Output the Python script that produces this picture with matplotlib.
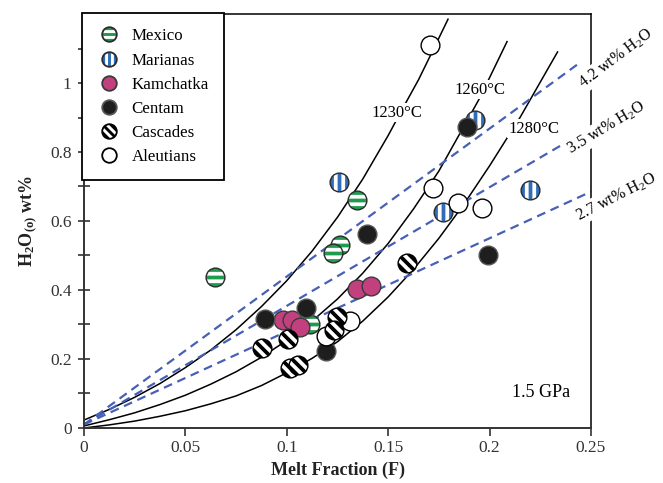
import numpy as np
import matplotlib
matplotlib.use("Agg")
import matplotlib.pyplot as plt
from matplotlib.path import Path
from matplotlib.lines import Line2D
from matplotlib.legend_handler import HandlerTuple

plt.rcParams['font.family'] = ['Liberation Serif', 'DejaVu Serif']
plt.rcParams['mathtext.default'] = 'regular'

# Sample data: melt fraction F and source H2O (wt%)
mexico_f = [0.0646, 0.1345, 0.1262, 0.1229, 0.1114]
mexico_h = [0.439, 0.661, 0.530, 0.508, 0.301]
marianas_f = [0.1259, 0.1772, 0.2199, 0.1928]
marianas_h = [0.712, 0.627, 0.690, 0.893]
kamchatka_f = [0.1345, 0.1415, 0.0983, 0.1024, 0.1065]
kamchatka_h = [0.402, 0.412, 0.313, 0.313, 0.294]
centam_f = [0.0893, 0.1095, 0.1193, 0.1394, 0.1890, 0.1994]
centam_h = [0.315, 0.347, 0.224, 0.562, 0.872, 0.501]
cascades_f = [0.0876, 0.1008, 0.1016, 0.1057, 0.1246, 0.1235, 0.1591]
cascades_h = [0.231, 0.257, 0.173, 0.183, 0.323, 0.285, 0.477]
aleutians_f = [0.1706, 0.1722, 0.1846, 0.1961, 0.1312, 0.1195]
aleutians_h = [1.110, 0.695, 0.651, 0.637, 0.311, 0.268]

# isotherms
iso_1230_f = [0, 0.0125, 0.025, 0.0375, 0.05, 0.0625, 0.075, 0.0875, 0.1, 0.1125,
              0.125, 0.1375, 0.15, 0.1575, 0.165, 0.1725, 0.1795]
iso_1230_h = [0.023, 0.054, 0.089, 0.129, 0.175, 0.226, 0.285, 0.352, 0.427, 0.513,
              0.611, 0.722, 0.848, 0.93, 1.01, 1.10, 1.185]
iso_1260_f = [0, 0.0125, 0.025, 0.0375, 0.05, 0.0625, 0.075, 0.0875, 0.1, 0.1125,
              0.125, 0.1375, 0.15, 0.1625, 0.175, 0.185, 0.195, 0.2086]
iso_1260_h = [0.006, 0.024, 0.044, 0.068, 0.095, 0.127, 0.163, 0.205, 0.254, 0.310,
              0.374, 0.449, 0.535, 0.635, 0.745, 0.85, 0.955, 1.12]
iso_1280_f = [0, 0.0125, 0.025, 0.0375, 0.05, 0.0625, 0.075, 0.0875, 0.1, 0.1125,
              0.125, 0.1375, 0.15, 0.1625, 0.175, 0.1875, 0.2, 0.215, 0.2335]
iso_1280_h = [0, 0.009, 0.02, 0.034, 0.05, 0.07, 0.093, 0.123, 0.16, 0.202,
              0.25, 0.31, 0.38, 0.46, 0.55, 0.65, 0.76, 0.90, 1.09]

# constant melt-water lines (start and end points)
w42_f = [0, 0.2436]
w42_h = [0.01, 1.055]
w35_f = [0, 0.25]
w35_h = [0.01, 0.87]
w27_f = [0, 0.25]
w27_h = [0.01, 0.685]


def striped(angle):
    # bands 2 and 4 of a disc cut into 5 parallel bands
    edges = np.linspace(-1, 1, 6)
    parts = [Path([[1, 0]], [Path.MOVETO])]  # keeps marker scale = unit circle
    c, s = np.cos(np.radians(angle)), np.sin(np.radians(angle))
    rot = np.array([[c, -s], [s, c]])
    for k in (1, 3):
        t = np.linspace(np.arcsin(edges[k]), np.arcsin(edges[k + 1]), 24)
        pts = np.vstack([np.c_[np.cos(t), np.sin(t)],
                         np.c_[-np.cos(t[::-1]), np.sin(t[::-1])]])
        pts = pts @ rot.T
        pts = np.vstack([pts, pts[:1]])
        parts.append(Path(pts, closed=True))
    return Path.make_compound_path(*parts)


styles = [
    ("Mexico", mexico_f, mexico_h, "#1f9a4e", striped(0), "white", "#2b2b2b"),
    ("Marianas", marianas_f, marianas_h, "#2f6db8", striped(90), "white", "#2b2b2b"),
    ("Kamchatka", kamchatka_f, kamchatka_h, "#c3407f", None, None, "#3a3a3a"),
    ("Centam", centam_f, centam_h, "#1e1e1e", None, None, "#555555"),
    ("Cascades", cascades_f, cascades_h, "black", striped(-45), "white", "black"),
    ("Aleutians", aleutians_f, aleutians_h, "white", None, None, "black"),
]
draw_order = [0, 1, 2, 3, 5, 4]

fig = plt.figure(figsize=(6.63, 4.83), dpi=100)
ax = fig.add_axes([0.1267, 0.1139, 0.7647, 0.8571])

# isotherms
for f, h in [(iso_1230_f, iso_1230_h), (iso_1260_f, iso_1260_h), (iso_1280_f, iso_1280_h)]:
    ax.plot(f, h, color="black", lw=1.1, zorder=2)

for f, h in [(w42_f, w42_h), (w35_f, w35_h), (w27_f, w27_h)]:
    ax.plot(f, h, color="#4760b5", lw=1.6, dashes=(4, 2.6), zorder=2)

ms = 13.5
for i in draw_order:
    name, fx, hx, face, stripe, scol, edge = styles[i]
    for f, h in zip(fx, hx):
        ax.plot(f, h, "o", ms=ms, mfc=face, mec="none", zorder=4)
        if stripe is not None:
            ax.plot(f, h, ls="none", marker=stripe, ms=ms, mfc=scol, mec="none", zorder=4)
        ax.plot(f, h, "o", ms=ms, mfc="none", mec=edge, mew=1.0, zorder=4)

# legend proxies (a bit smaller)
handles = []
for name, fx, hx, face, stripe, scol, edge in styles:
    parts = [Line2D([], [], ls="none", marker="o", ms=10.5, mfc=face, mec="none")]
    if stripe is not None:
        parts.append(Line2D([], [], ls="none", marker=stripe, ms=10.5, mfc=scol, mec="none"))
    parts.append(Line2D([], [], ls="none", marker="o", ms=10.5, mfc="none", mec=edge, mew=1.3))
    handles.append(tuple(parts))

leg = ax.legend(handles, [s[0] for s in styles],
                handler_map={tuple: HandlerTuple(ndivide=1, pad=0)},
                loc="upper left", bbox_to_anchor=(-0.003, 1.002), borderaxespad=0,
                fancybox=False, framealpha=1, edgecolor="black", fontsize=12.2,
                handlelength=1.3, handletextpad=0.7, labelspacing=0.48, borderpad=0.9)
leg.get_frame().set_linewidth(1.3)
leg.set_zorder(6)

box = dict(facecolor="white", edgecolor="none", pad=1.0)
ax.text(0.1541, 0.914, "1230°C", fontsize=12, ha="center", va="center", bbox=box, zorder=3)
ax.text(0.1953, 0.981, "1260°C", fontsize=12, ha="center", va="center", bbox=box, zorder=3)
ax.text(0.2219, 0.868, "1280°C", fontsize=12, ha="center", va="center", bbox=box, zorder=3)

ax.text(0.2623, 1.071, "4.2 wt% H$_2$O", fontsize=11.5, rotation=37, ha="center", va="center",
        bbox=box, clip_on=False, zorder=7)
ax.text(0.2574, 0.870, "3.5 wt% H$_2$O", fontsize=11.5, rotation=31, ha="center", va="center",
        bbox=box, clip_on=False, zorder=7)
ax.text(0.2623, 0.670, "2.7 wt% H$_2$O", fontsize=11.5, rotation=27, ha="center", va="center",
        bbox=box, clip_on=False, zorder=7)

ax.text(0.2254, 0.104, "1.5 GPa", fontsize=13, ha="center", va="center")

ax.set_xlim(0, 0.25)
ax.set_ylim(0, 1.2)
ax.set_xticks([0, 0.05, 0.1, 0.15, 0.2, 0.25])
ax.set_xticklabels(["0", "0.05", "0.1", "0.15", "0.2", "0.25"])
ax.set_yticks([0, 0.2, 0.4, 0.6, 0.8, 1.0])
ax.set_yticklabels(["0", "0.2", "0.4", "0.6", "0.8", "1"])
ax.set_yticks(np.arange(0.1, 1.2, 0.2), minor=True)
ax.tick_params(axis="x", direction="out", length=6, width=1.2, labelsize=12.5, colors="#333333", pad=3)
ax.tick_params(axis="y", which="both", direction="inout", length=8, width=1.2, labelsize=12.5,
               colors="#333333", pad=5)

for side in ["left", "bottom"]:
    ax.spines[side].set_linewidth(1.4)
    ax.spines[side].set_color("#333333")
for side in ["top", "right"]:
    ax.spines[side].set_linewidth(1.1)
    ax.spines[side].set_color("black")

ax.set_xlabel("Melt Fraction (F)", fontsize=13, fontweight="bold", color="#222222", labelpad=4)
ax.set_ylabel("H$_2$O$_{(o)}$ wt%", fontsize=13, fontweight="bold", color="#222222", labelpad=8)

fig.savefig("out.png", dpi=100)
